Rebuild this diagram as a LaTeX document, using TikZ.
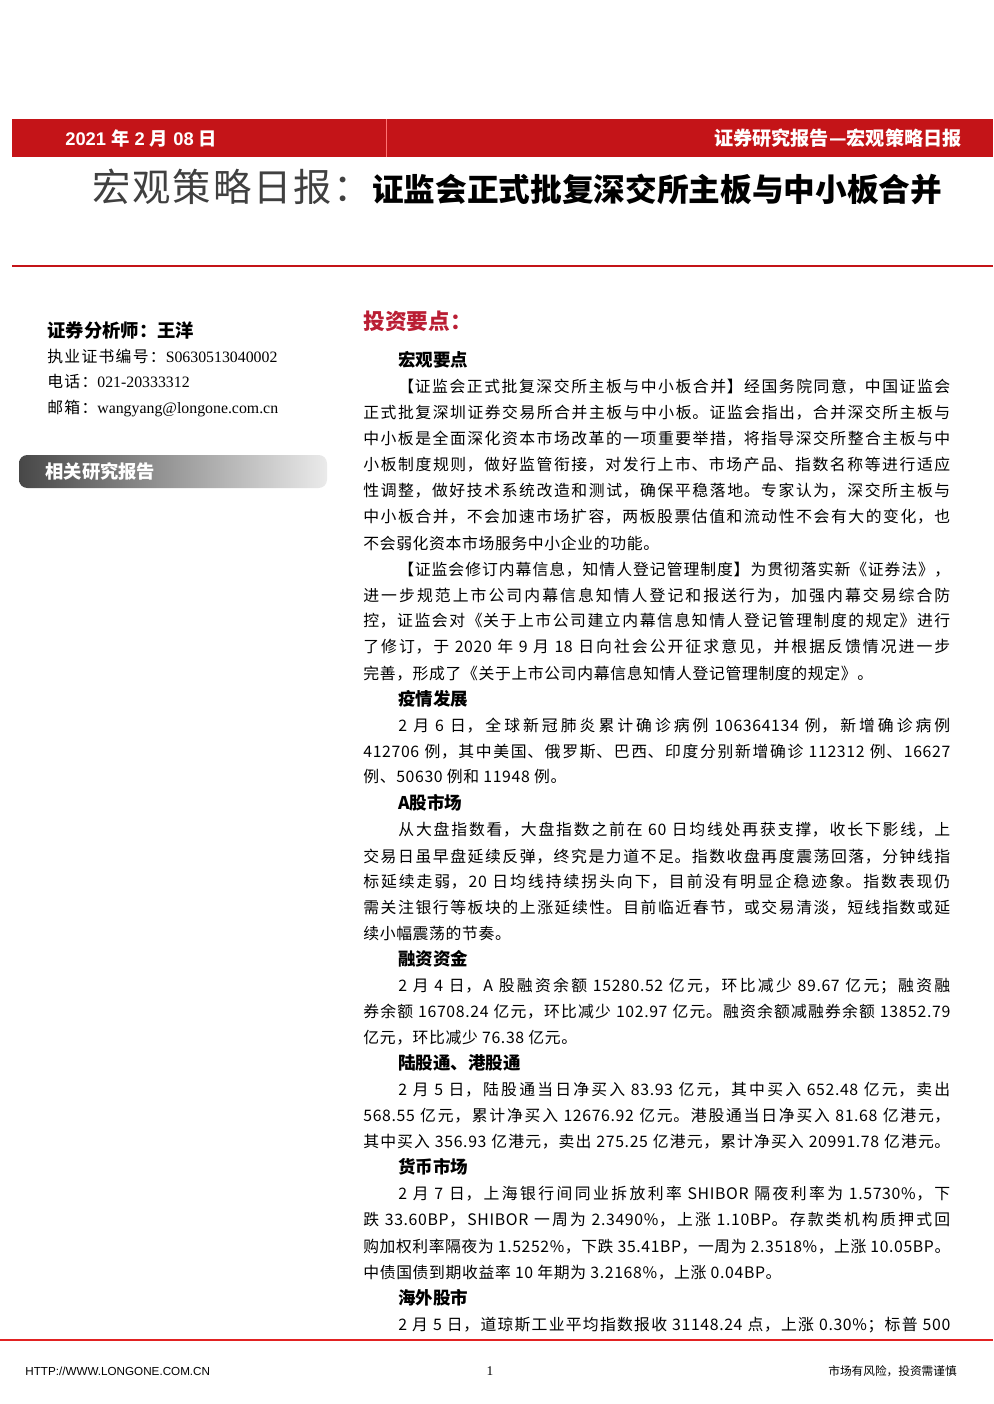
\documentclass[tikz,border=0pt]{standalone}
\usepackage{fontspec}
\usepackage{graphicx}
\setmainfont{Liberation Serif}
\newfontfamily\cjk{Noto Sans CJK SC}
\newfontfamily\cjkbody[LetterSpace=4]{Noto Sans CJK SC}
\newfontfamily\cjkside[LetterSpace=8]{Noto Sans CJK SC}
\newfontfamily\cjktitle[LetterSpace=5]{Noto Sans CJK SC}
\newfontfamily\arial{Liberation Sans}
\XeTeXlinebreaklocale "zh"
\XeTeXlinebreakskip=0pt plus 1pt\relax
\definecolor{hdred}{RGB}{196,20,24}
\definecolor{ttlred}{RGB}{186,30,52}
\definecolor{ftred}{RGB}{226,34,34}
\newlength\fullw \setlength\fullw{352.2pt}
\newlength\indw \setlength\indw{331.2pt}
\newsavebox\lnbox
% justified line: a one-line paragraph filled to the width, or squeezed if too long
\newcommand\jline[2]{\sbox\lnbox{#2}\ifdim\wd\lnbox>#1\relax\resizebox{#1}{\height}{#2}\else\parbox[b]{#1}{\tolerance=10000\hbadness=10000\parfillskip=0pt\spaceskip=2.6pt plus 0.6pt\relax\noindent #2}\fi}
\tikzset{
  body/.style={anchor=base west, inner sep=0pt, font=\cjkbody\fontsize{9.5}{11}\selectfont},
  head/.style={anchor=base west, inner sep=0pt, font=\cjk\bfseries\fontsize{10.5}{12}\selectfont},
  side/.style={anchor=base west, inner sep=0pt, font=\fontsize{9.5}{11}\selectfont},
}
\begin{document}
\begin{tikzpicture}[x=0.6pt,y=-0.6pt]
\useasboundingbox[fill=white] (0,0) rectangle (993,1404);
% header band
\fill[hdred] (12,119) rectangle (993,157);
\draw[red!55!white, line width=0.4pt] (386,119) -- (386,157);
\node[anchor=base west, inner sep=0pt, text=white, font=\arial\bfseries\fontsize{11}{13}\selectfont] (date) at (65,145) {2021 {\cjk 年} 2 {\cjk 月} 08 {\cjk 日}};
\node[anchor=base east, inner sep=0pt, text=white, font=\cjk\bfseries\fontsize{11.5}{13}\selectfont] (series) at (962,145) {证券研究报告—宏观策略日报};
% title
\node[anchor=base west, inner sep=0pt] (title) at (92,201) {{\cjktitle\fontsize{23}{25}\selectfont\color{black!75}宏观策略日报：}{\cjk\bfseries\fontsize{19}{21}\selectfont 证监会正式批复深交所主板与中小板合并}};
\draw[hdred, line width=1.6pt] (12,266) -- (993,266);
% left column
\node[side, font=\cjk\bfseries\fontsize{11}{13}\selectfont] (analyst) at (47,337) {证券分析师：王洋};
\node[side] (licence) at (47,362) {{\cjkside 执业证书编号：}S0630513040002};
\node[side] (phone) at (47,387) {{\cjkside 电话：}021-20333312};
\node[side] (mail) at (47,413) {{\cjkside 邮箱：}wangyang@longone.com.cn};
\shade[left color=black!72, right color=black!8, rounded corners=5] (19,455) rectangle (327,488);
\node[anchor=west, inner sep=0pt, text=white, font=\cjk\bfseries\fontsize{11}{13}\selectfont] (related) at (45,472) {相关研究报告};
% right column
\node[anchor=base west, inner sep=0pt, text=ttlred, font=\cjk\bfseries\fontsize{13}{15}\selectfont] (points) at (363,329) {投资要点：};
\node[head] (h1) at (398,366) {宏观要点};
\node[body] (b1) at (398,392) {\jline{\indw}{【证监会正式批复深交所主板与中小板合并】经国务院同意，中国证监会}};
\node[body] (b2) at (363,418) {\jline{\fullw}{正式批复深圳证券交易所合并主板与中小板。证监会指出，合并深交所主板与}};
\node[body] (b3) at (363,444) {\jline{\fullw}{中小板是全面深化资本市场改革的一项重要举措，将指导深交所整合主板与中}};
\node[body] (b4) at (363,470) {\jline{\fullw}{小板制度规则，做好监管衔接，对发行上市、市场产品、指数名称等进行适应}};
\node[body] (b5) at (363,496) {\jline{\fullw}{性调整，做好技术系统改造和测试，确保平稳落地。专家认为，深交所主板与}};
\node[body] (b6) at (363,522) {\jline{\fullw}{中小板合并，不会加速市场扩容，两板股票估值和流动性不会有大的变化，也}};
\node[body] (b7) at (363,549) {不会弱化资本市场服务中小企业的功能。};
\node[body] (b8) at (398,575) {\jline{\indw}{【证监会修订内幕信息，知情人登记管理制度】为贯彻落实新《证券法》，}};
\node[body] (b9) at (363,601) {\jline{\fullw}{进一步规范上市公司内幕信息知情人登记和报送行为，加强内幕交易综合防}};
\node[body] (b10) at (363,626) {\jline{\fullw}{控，证监会对《关于上市公司建立内幕信息知情人登记管理制度的规定》进行}};
\node[body] (b11) at (363,652) {\jline{\fullw}{了修订，于 2020 年 9 月 18 日向社会公开征求意见，并根据反馈情况进一步}};
\node[body] (b12) at (363,679) {完善，形成了《关于上市公司内幕信息知情人登记管理制度的规定》。};
\node[head] (h2) at (398,705) {疫情发展};
\node[body] (b13) at (398,731) {\jline{\indw}{2 月 6 日，全球新冠肺炎累计确诊病例 106364134 例，新增确诊病例}};
\node[body] (b14) at (363,757) {\jline{\fullw}{412706 例，其中美国、俄罗斯、巴西、印度分别新增确诊 112312 例、16627}};
\node[body] (b15) at (363,782) {例、50630 例和 11948 例。};
\node[head] (h3) at (398,809) {A股市场};
\node[body] (b16) at (398,835) {\jline{\indw}{从大盘指数看，大盘指数之前在 60 日均线处再获支撑，收长下影线，上}};
\node[body] (b17) at (363,862) {\jline{\fullw}{交易日虽早盘延续反弹，终究是力道不足。指数收盘再度震荡回落，分钟线指}};
\node[body] (b18) at (363,887) {\jline{\fullw}{标延续走弱，20 日均线持续拐头向下，目前没有明显企稳迹象。指数表现仍}};
\node[body] (b19) at (363,913) {\jline{\fullw}{需关注银行等板块的上涨延续性。目前临近春节，或交易清淡，短线指数或延}};
\node[body] (b20) at (363,939) {续小幅震荡的节奏。};
\node[head] (h4) at (398,965) {融资资金};
\node[body] (b21) at (398,991) {\jline{\indw}{2 月 4 日，A 股融资余额 15280.52 亿元，环比减少 89.67 亿元；融资融}};
\node[body] (b22) at (363,1017) {\jline{\fullw}{券余额 16708.24 亿元，环比减少 102.97 亿元。融资余额减融券余额 13852.79}};
\node[body] (b23) at (363,1043) {亿元，环比减少 76.38 亿元。};
\node[head] (h5) at (398,1069) {陆股通、港股通};
\node[body] (b24) at (398,1095) {\jline{\indw}{2 月 5 日，陆股通当日净买入 83.93 亿元，其中买入 652.48 亿元，卖出}};
\node[body] (b25) at (363,1121) {\jline{\fullw}{568.55 亿元，累计净买入 12676.92 亿元。港股通当日净买入 81.68 亿港元，}};
\node[body] (b26) at (363,1147) {\jline{\fullw}{其中买入 356.93 亿港元，卖出 275.25 亿港元，累计净买入 20991.78 亿港元。}};
\node[head] (h6) at (398,1173) {货币市场};
\node[body] (b27) at (398,1199) {\jline{\indw}{2 月 7 日，上海银行间同业拆放利率 SHIBOR 隔夜利率为 1.5730\%，下}};
\node[body] (b28) at (363,1225) {\jline{\fullw}{跌 33.60BP，SHIBOR 一周为 2.3490\%，上涨 1.10BP。存款类机构质押式回}};
\node[body] (b29) at (363,1252) {\jline{\fullw}{购加权利率隔夜为 1.5252\%，下跌 35.41BP，一周为 2.3518\%，上涨 10.05BP。}};
\node[body] (b30) at (363,1278) {中债国债到期收益率 10 年期为 3.2168\%，上涨 0.04BP。};
\node[head] (h7) at (398,1304) {海外股市};
\node[body] (b31) at (398,1330) {\jline{\indw}{2 月 5 日，道琼斯工业平均指数报收 31148.24 点，上涨 0.30\%；标普 500}};
% footer
\draw[ftred, line width=1.2pt] (0,1340) -- (993,1340);
\node[anchor=base west, inner sep=0pt, font=\arial\fontsize{7}{8}\selectfont] (url) at (25,1375) {HTTP://WWW.LONGONE.COM.CN};
\node[anchor=base, inner sep=0pt, font=\fontsize{8}{9}\selectfont] (pgno) at (490,1375) {1};
\node[anchor=base east, inner sep=0pt, font=\cjk\fontsize{7}{8}\selectfont] (risk) at (957,1375) {市场有风险，投资需谨慎};
\end{tikzpicture}
\end{document}
